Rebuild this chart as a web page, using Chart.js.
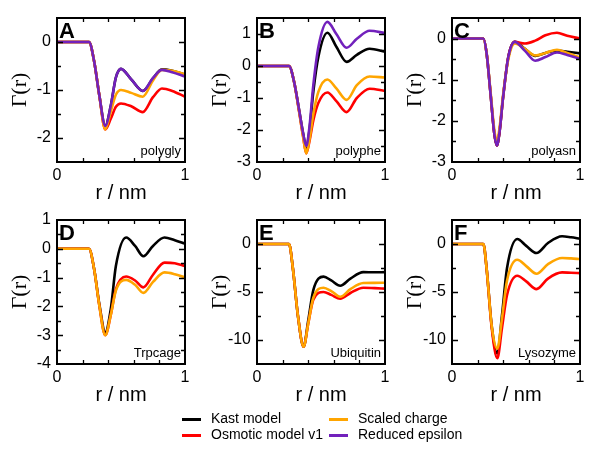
<!DOCTYPE html>
<html>
<head>
<meta charset="utf-8">
<script src="https://cdn.jsdelivr.net/npm/chart.js@4/dist/chart.umd.min.js"></script>
<style>
  body { margin: 0; background: #fff; }
  #wrap { position: relative; width: 600px; height: 451px; overflow: hidden; }
  .panel { position: absolute; width: 200px; height: 206px; }
  .leg { position: absolute; font: 14px "Liberation Sans", Arial, sans-serif; color: #000; white-space: nowrap; }
  .leg i { position: absolute; width: 19px; height: 3px; }
</style>
</head>
<body>
<div id="wrap">
  <div class="panel" style="left:0;top:0"><canvas id="cA"></canvas></div>
  <div class="panel" style="left:200px;top:0"><canvas id="cB"></canvas></div>
  <div class="panel" style="left:395px;top:0"><canvas id="cC"></canvas></div>
  <div class="panel" style="left:0;top:202px"><canvas id="cD"></canvas></div>
  <div class="panel" style="left:200px;top:202px"><canvas id="cE"></canvas></div>
  <div class="panel" style="left:395px;top:202px"><canvas id="cF"></canvas></div>

  <div class="leg" style="left:182px;top:410px"><i style="left:0;top:8px;background:#000"></i><span style="position:absolute;left:29px">Kast model</span></div>
  <div class="leg" style="left:182px;top:426px"><i style="left:0;top:8px;background:#ff0000"></i><span style="position:absolute;left:29px">Osmotic model v1</span></div>
  <div class="leg" style="left:329px;top:410px"><i style="left:0;top:8px;background:#ffa500"></i><span style="position:absolute;left:29px">Scaled charge</span></div>
  <div class="leg" style="left:329px;top:426px"><i style="left:0;top:8px;background:rgb(114,33,188)"></i><span style="position:absolute;left:29px">Reduced epsilon</span></div>
</div>
<script>
// r / nm sample positions and Gamma(r) values
const rA = [0, 0.25, 0.29, 0.33, 0.377, 0.42, 0.46, 0.5, 0.58, 0.67, 0.75, 0.82, 0.9, 1.0];
const kastA = [0, 0, -0.4, -1.1, -1.75, -1.33, -0.74, -0.56, -0.78, -1.02, -0.76, -0.57, -0.6, -0.68];
const osmA = [0, 0, -0.4, -1.1, -1.82, -1.6, -1.35, -1.28, -1.34, -1.46, -1.15, -0.97, -1.02, -1.14];
const scaledA = [0, 0, -0.4, -1.1, -1.82, -1.45, -1.1, -1.0, -1.06, -1.14, -0.8, -0.58, -0.6, -0.67];
const epsA = [0, 0, -0.4, -1.1, -1.75, -1.33, -0.74, -0.56, -0.78, -1.02, -0.75, -0.58, -0.63, -0.72];

const rB = [0, 0.25, 0.29, 0.33, 0.36, 0.385, 0.41, 0.44, 0.48, 0.55, 0.62, 0.70, 0.78, 0.88, 1.0];
const kastB = [0, 0, -0.5, -1.4, -2.1, -2.55, -2.0, -0.8, 0.3, 1.04, 0.6, 0.13, 0.35, 0.54, 0.45];
const osmB = [0, 0, -0.5, -1.45, -2.2, -2.73, -2.35, -1.7, -1.15, -0.83, -1.1, -1.44, -1.0, -0.71, -0.78];
const scaledB = [0, 0, -0.5, -1.45, -2.2, -2.73, -2.3, -1.5, -0.8, -0.42, -0.7, -1.06, -0.6, -0.33, -0.36];
const epsB = [0, 0, -0.5, -1.4, -2.1, -2.5, -1.9, -0.6, 0.6, 1.38, 1.0, 0.57, 0.85, 1.1, 1.03];

const rC = [0, 0.245, 0.27, 0.30, 0.33, 0.35, 0.37, 0.40, 0.44, 0.49, 0.57, 0.65, 0.73, 0.82, 0.9, 1.0];
const kastC = [0, 0, -0.35, -1.3, -2.3, -2.6, -2.3, -1.4, -0.45, -0.08, -0.25, -0.42, -0.35, -0.29, -0.32, -0.36];
const osmC = [0, 0, -0.35, -1.3, -2.3, -2.6, -2.3, -1.4, -0.45, -0.08, -0.12, -0.05, 0.08, 0.14, 0.07, 0];
const scaledC = [0, 0, -0.35, -1.25, -2.2, -2.49, -2.2, -1.35, -0.5, -0.12, -0.25, -0.41, -0.35, -0.27, -0.35, -0.46];
const epsC = [0, 0, -0.35, -1.3, -2.3, -2.6, -2.3, -1.4, -0.45, -0.08, -0.3, -0.54, -0.45, -0.34, -0.4, -0.49];

const rD = [0, 0.25, 0.29, 0.33, 0.377, 0.42, 0.46, 0.54, 0.61, 0.675, 0.75, 0.84, 0.92, 1.0];
const kastD = [0, 0, -0.7, -1.9, -2.9, -2.1, -0.6, 0.39, 0.1, -0.26, 0.1, 0.39, 0.3, 0.18];
const osmD = [0, 0, -0.7, -1.95, -3.0, -2.3, -1.4, -0.96, -1.1, -1.34, -0.9, -0.48, -0.5, -0.6];
const scaledD = [0, 0, -0.7, -1.95, -3.0, -2.3, -1.45, -1.08, -1.25, -1.53, -1.15, -0.82, -0.88, -0.99];

const rE = [0, 0.25, 0.28, 0.32, 0.364, 0.40, 0.44, 0.52, 0.58, 0.65, 0.73, 0.83, 0.92, 1.0];
const kastE = [0, 0, -2.5, -7.5, -10.7, -8.0, -4.8, -3.4, -3.8, -4.35, -3.6, -2.93, -2.95, -2.93];
const osmE = [0, 0, -2.5, -7.5, -10.7, -8.3, -5.8, -5.0, -5.3, -5.7, -5.1, -4.55, -4.6, -4.65];
const scaledE = [0, 0, -2.5, -7.5, -10.7, -8.3, -5.6, -4.55, -4.9, -5.5, -4.7, -4.07, -4.05, -4.03];

const rF = [0, 0.245, 0.27, 0.31, 0.354, 0.39, 0.43, 0.51, 0.58, 0.66, 0.75, 0.86, 0.93, 1.0];
const kastF = [0, 0, -2.5, -8.5, -11.4, -7.5, -2.5, 0.52, -0.2, -0.94, 0.1, 0.8, 0.7, 0.56];
const osmF = [0, 0, -2.5, -8.7, -11.9, -8.8, -5.3, -3.3, -3.9, -4.7, -3.6, -2.96, -3.0, -3.03];
const scaledF = [0, 0, -2.5, -8.5, -10.9, -7.8, -3.8, -1.64, -2.3, -3.1, -2.1, -1.46, -1.5, -1.57];

const KAST = '#000000', OSM = '#ff0000', SCALED = '#ffa500', EPS = 'rgb(114,33,188)';
const SANS = '"Liberation Sans", Arial, sans-serif';

function pts(r, ys) {
  return r.map((x, i) => ({ x: x, y: ys[i] }));
}

function line(r, ys, color) {
  return {
    data: pts(r, ys),
    borderColor: color,
    borderWidth: 2.6,
    pointRadius: 0,
    fill: false,
    cubicInterpolationMode: 'monotone'
  };
}

// frame, inward ticks, panel letter and protein name
const framePlugin = {
  id: 'frame',
  afterDatasetsDraw(chart, args, opts) {
    const ctx = chart.ctx;
    const a = chart.chartArea;
    const xs = chart.scales.x, ys = chart.scales.y;
    ctx.save();
    ctx.strokeStyle = '#000';
    ctx.lineWidth = 1.3;
    ctx.beginPath();
    xs.ticks.forEach(t => {
      const v = t.value;
      if (v <= xs.min + 1e-6 || v >= xs.max - 1e-6) return;
      const p = Math.round(xs.getPixelForValue(v)) + 0.5;
      const len = Math.abs(v - Math.round(v)) < 1e-6 ? 6 : 4;
      ctx.moveTo(p, a.bottom); ctx.lineTo(p, a.bottom - len);
      ctx.moveTo(p, a.top); ctx.lineTo(p, a.top + len);
    });
    ys.ticks.forEach(t => {
      const v = t.value;
      if (v <= ys.min + 1e-6 || v >= ys.max - 1e-6) return;
      const p = Math.round(ys.getPixelForValue(v)) + 0.5;
      const major = Math.abs(v / opts.major - Math.round(v / opts.major)) < 1e-6;
      const len = major ? 6 : 4;
      ctx.moveTo(a.left, p); ctx.lineTo(a.left + len, p);
      ctx.moveTo(a.right, p); ctx.lineTo(a.right - len, p);
    });
    ctx.stroke();
    ctx.lineWidth = 2;
    ctx.strokeRect(a.left, a.top, a.right - a.left, a.bottom - a.top);
    ctx.fillStyle = '#000';
    ctx.font = 'bold 22px ' + SANS;
    ctx.textBaseline = 'top';
    ctx.textAlign = 'left';
    ctx.fillText(opts.letter, a.left + 2, a.top + 3);
    ctx.font = '13px ' + SANS;
    ctx.textBaseline = 'middle';
    ctx.textAlign = 'right';
    ctx.fillText(opts.name, a.right - 4, a.bottom - 11);
    ctx.restore();
  }
};

function panel(id, letter, name, sets, yMin, yMax, yStep, yMajor) {
  new Chart(document.getElementById(id), {
    type: 'line',
    data: { datasets: sets },
    plugins: [framePlugin],
    options: {
      responsive: true,
      maintainAspectRatio: false,
      animation: false,
      layout: { padding: { top: 18, right: 15, left: 0, bottom: 0 } },
      plugins: {
        legend: { display: false },
        tooltip: { enabled: false },
        frame: { letter: letter, name: name, major: yMajor }
      },
      scales: {
        x: {
          type: 'linear', min: 0, max: 1,
          grid: { display: false, drawTicks: false },
          border: { display: false },
          afterFit(s) { s.height = 44; },
          ticks: {
            stepSize: 0.2, maxRotation: 0, autoSkip: false, padding: 4,
            color: '#000', font: { family: SANS, size: 16 },
            callback: v => (Math.abs(v) < 1e-6 ? '0' : Math.abs(v - 1) < 1e-6 ? '1' : '')
          },
          title: {
            display: true, text: 'r / nm', color: '#000',
            font: { family: SANS, size: 20, lineHeight: 1.2 },
            padding: { top: 0, bottom: 1 }
          }
        },
        y: {
          min: yMin, max: yMax,
          grid: { display: false, drawTicks: false },
          border: { display: false },
          afterFit(s) { s.width = 57; },
          ticks: {
            stepSize: yStep, autoSkip: false, padding: 6,
            color: '#000', font: { family: SANS, size: 16 },
            callback: v => {
              const k = v / yMajor;
              return Math.abs(k - Math.round(k)) < 1e-6 ? String(Math.round(v)) : '';
            }
          },
          title: {
            display: true, text: 'Γ(r)', color: '#000',
            font: { family: '"Liberation Serif", "Times New Roman", serif', size: 22, lineHeight: 1.2 },
            padding: { top: 7, bottom: 0 }
          }
        }
      }
    }
  });
}

// first dataset is drawn on top
panel('cA', 'A', 'polygly',
  [line(rA, epsA, EPS), line(rA, scaledA, SCALED), line(rA, osmA, OSM), line(rA, kastA, KAST)],
  -2.5, 0.5, 0.5, 1);
panel('cB', 'B', 'polyphe',
  [line(rB, epsB, EPS), line(rB, scaledB, SCALED), line(rB, osmB, OSM), line(rB, kastB, KAST)],
  -3, 1.5, 0.5, 1);
panel('cC', 'C', 'polyasn',
  [line(rC, epsC, EPS), line(rC, scaledC, SCALED), line(rC, osmC, OSM), line(rC, kastC, KAST)],
  -3, 0.5, 0.5, 1);
panel('cD', 'D', 'Trpcage',
  [line(rD, scaledD, SCALED), line(rD, osmD, OSM), line(rD, kastD, KAST)],
  -4, 1, 0.5, 1);
panel('cE', 'E', 'Ubiquitin',
  [line(rE, scaledE, SCALED), line(rE, osmE, OSM), line(rE, kastE, KAST)],
  -12.5, 2.5, 2.5, 5);
panel('cF', 'F', 'Lysozyme',
  [line(rF, scaledF, SCALED), line(rF, osmF, OSM), line(rF, kastF, KAST)],
  -12.5, 2.5, 2.5, 5);
</script>
</body>
</html>
